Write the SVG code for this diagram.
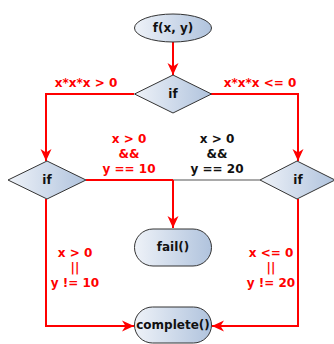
<svg xmlns="http://www.w3.org/2000/svg" width="334" height="344" viewBox="0 0 334 344">
<defs>
<linearGradient id="g" x1="0" y1="0" x2="1" y2="0">
<stop offset="0" stop-color="#eef2f8"/>
<stop offset="1" stop-color="#b0c3dd"/>
</linearGradient>
<marker id="ah" viewBox="0 0 12 12" refX="12" refY="6" markerWidth="12" markerHeight="12" markerUnits="userSpaceOnUse" orient="auto">
<path d="M0,0.5 L12,6 L0,11.5 L3.5,6 Z" fill="#ff0000"/>
</marker>
</defs>
<style>
.n{fill:url(#g);stroke:#333;stroke-width:1}
.t{font-family:"DejaVu Sans",sans-serif;font-weight:bold;font-size:12px;text-anchor:middle;fill:#111}
.l{font-family:"DejaVu Sans",sans-serif;font-weight:bold;font-size:12px;text-anchor:middle;fill:#ff0000}
.lb{font-family:"DejaVu Sans",sans-serif;font-weight:bold;font-size:12px;text-anchor:middle;fill:#111}
.e{fill:none;stroke:#ff0000;stroke-width:2}
.eg{fill:none;stroke:#555;stroke-width:1.2}
</style>
<g id="edges">
<path class="e" d="M173,42 V75" marker-end="url(#ah)"/>
<path class="e" d="M134,94 H46 V161" marker-end="url(#ah)"/>
<path class="e" d="M211,94 H298 V161" marker-end="url(#ah)"/>
<path class="e" d="M86,180 H173"/>
<path class="eg" d="M173,180 H260"/>
<path class="e" d="M173,180 V228" marker-end="url(#ah)"/>
<path class="e" d="M46,199 V326 H134" marker-end="url(#ah)"/>
<path class="e" d="M298,199 V326 H212" marker-end="url(#ah)"/>
<text class="l" x="86" y="87">x*x*x &gt; 0</text>
<text class="l" x="260" y="87">x*x*x &lt;= 0</text>
<text class="l" x="129" y="143">x &gt; 0</text>
<text class="l" x="129" y="158">&amp;&amp;</text>
<text class="l" x="129" y="173">y == 10</text>
<text class="lb" x="217" y="143">x &gt; 0</text>
<text class="lb" x="217" y="158">&amp;&amp;</text>
<text class="lb" x="217" y="173">y == 20</text>
<text class="l" x="75" y="257">x &gt; 0</text>
<text class="l" x="75" y="272">||</text>
<text class="l" x="75" y="287">y != 10</text>
<text class="l" x="271" y="257">x &lt;= 0</text>
<text class="l" x="271" y="272">||</text>
<text class="l" x="271" y="287">y != 20</text>
</g>
<g id="start">
<ellipse class="n" cx="173" cy="28" rx="38.5" ry="14"/>
<text class="t" x="173" y="32">f(x, y)</text>
</g>
<g id="if1">
<path class="n" d="M173,75 L211.5,94 L173,113 L134.5,94 Z"/>
<text class="t" x="173" y="98">if</text>
</g>
<g id="if2">
<path class="n" d="M47,161 L86,180 L47,199 L8,180 Z"/>
<text class="t" x="47" y="184">if</text>
</g>
<g id="if3">
<path class="n" d="M297,161 L335,180 L297,199 L260,180 Z"/>
<text class="t" x="298" y="184">if</text>
</g>
<g id="fail">
<rect class="n" x="134.5" y="229" width="77" height="37" rx="18.5"/>
<text class="t" x="173" y="251">fail()</text>
</g>
<g id="complete">
<rect class="n" x="134.5" y="307" width="77" height="36" rx="18"/>
<text class="t" x="173" y="329">complete()</text>
</g>
</svg>
